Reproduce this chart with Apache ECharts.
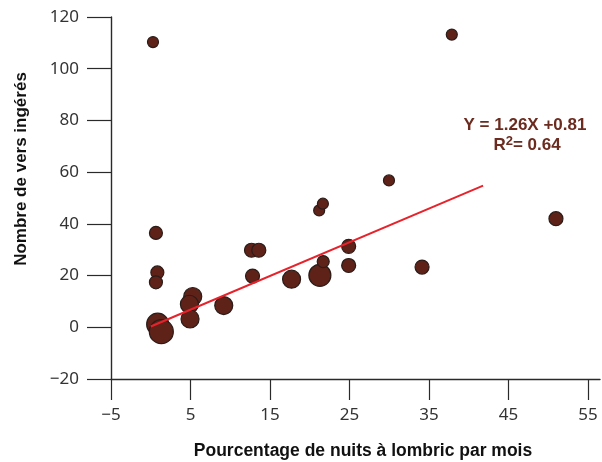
<!DOCTYPE html>
<html>
<head>
<meta charset="utf-8">
<script src="https://cdn.jsdelivr.net/npm/echarts@6/dist/echarts.min.js"></script>
<style>html,body{margin:0;padding:0;background:#fff}#c{width:602px;height:462px}</style>
</head>
<body>
<div id="c"></div>
<script>
// Data
const xValues = [0.65, 0.83, 0.65, 0.87, 1.33, 5.28, 4.86, 4.94, 9.18, 12.67, 13.59, 12.80, 17.71, 21.27, 21.69, 21.18, 21.65, 24.89, 24.89, 29.96, 34.12, 0.28, 37.86, 50.96];
const yValues = [36.5, 21.2, 17.4, 1.2, -1.7, 11.9, 8.9, 3.2, 8.4, 29.8, 29.8, 19.8, 18.6, 20.1, 25.4, 45.2, 47.8, 31.3, 23.9, 56.8, 23.3, 110.3, 113.2, 42.0];
const bubbleSizes = [13, 13, 13, 22, 24, 18, 18, 18, 18, 14, 14, 14, 18, 22, 12, 11, 11, 14, 14, 11, 14, 11, 11, 14];
const fitX = [0.0, 41.8];
const fitY = [0.3, 54.8];
const xTicks = [-5, 5, 15, 25, 35, 45, 55];
const yTicks = [-20, 0, 20, 40, 60, 80, 100, 120];
const xTitle = 'Pourcentage de nuits à lombric par mois';
const yTitle = 'Nombre de vers ingérés';
const eqLine1 = 'Y = 1.26X +0.81';
const eqR2 = '0.64';

const points = xValues.map((x, i) => ({ value: [x, yValues[i]], symbolSize: bubbleSizes[i] }));
const fitData = fitX.map((x, i) => [x, fitY[i]]);
const fmt = v => (v < 0 ? '\u2212' + Math.abs(v) : String(v));
const boldFont = sz => 'bold ' + sz + 'px "Liberation Sans", Arial, sans-serif';

const chart = echarts.init(document.getElementById('c'), null, { renderer: 'canvas' });
chart.setOption({
  animation: false,
  backgroundColor: '#ffffff',
  grid: { left: 111, right: 2, top: 17, bottom: 83, containLabel: false },
  xAxis: {
    type: 'value', min: -5, max: 56.5, interval: 10,
    axisLine: { show: true, onZero: false, lineStyle: { color: '#2a2a2a', width: 1.4 } },
    axisTick: { show: true, length: 21, customValues: xTicks, lineStyle: { color: '#2a2a2a', width: 1.2 } },
    axisLabel: { customValues: xTicks, formatter: fmt, margin: 28, color: '#333', fontSize: 17, fontFamily: 'Noto Sans' },
    splitLine: { show: false }
  },
  yAxis: {
    type: 'value', min: -20, max: 120, interval: 20,
    axisLine: { show: true, onZero: false, lineStyle: { color: '#2a2a2a', width: 1.4 } },
    axisTick: { show: true, length: 24, customValues: yTicks, lineStyle: { color: '#2a2a2a', width: 1.2 } },
    axisLabel: { customValues: yTicks, formatter: fmt, margin: 32, color: '#333', fontSize: 17, fontFamily: 'Noto Sans' },
    splitLine: { show: false }
  },
  series: [
    {
      type: 'scatter',
      data: points,
      itemStyle: { color: '#5e2219', borderColor: '#2b1c18', borderWidth: 1.2, opacity: 1 },
      z: 2
    },
    {
      type: 'line',
      data: fitData,
      showSymbol: false, symbol: 'none',
      lineStyle: { color: '#e8222b', width: 2 },
      z: 3
    }
  ],
  graphic: [
    {
      type: 'text', x: 363, y: 451,
      style: { text: xTitle, font: boldFont(17.5), fill: '#111', align: 'center', verticalAlign: 'middle' }
    },
    {
      type: 'text', x: 21, y: 169, rotation: Math.PI / 2,
      style: { text: yTitle, font: boldFont(17), fill: '#111', align: 'center', verticalAlign: 'middle' }
    },
    {
      type: 'text', x: 525, y: 125,
      style: { text: eqLine1, font: boldFont(17), fill: '#6b2b1f', align: 'center', verticalAlign: 'middle' }
    },
    {
      type: 'text', x: 527, y: 145,
      style: {
        text: '{a|R}{s|2}{a|= ' + eqR2 + '}',
        align: 'center', verticalAlign: 'middle',
        rich: {
          a: { font: boldFont(17), fill: '#6b2b1f', color: '#6b2b1f' },
          s: { font: boldFont(13), fill: '#6b2b1f', color: '#6b2b1f', verticalAlign: 'top', padding: [0, 0, 8, 0] }
        }
      }
    }
  ]
});
</script>
</body>
</html>
